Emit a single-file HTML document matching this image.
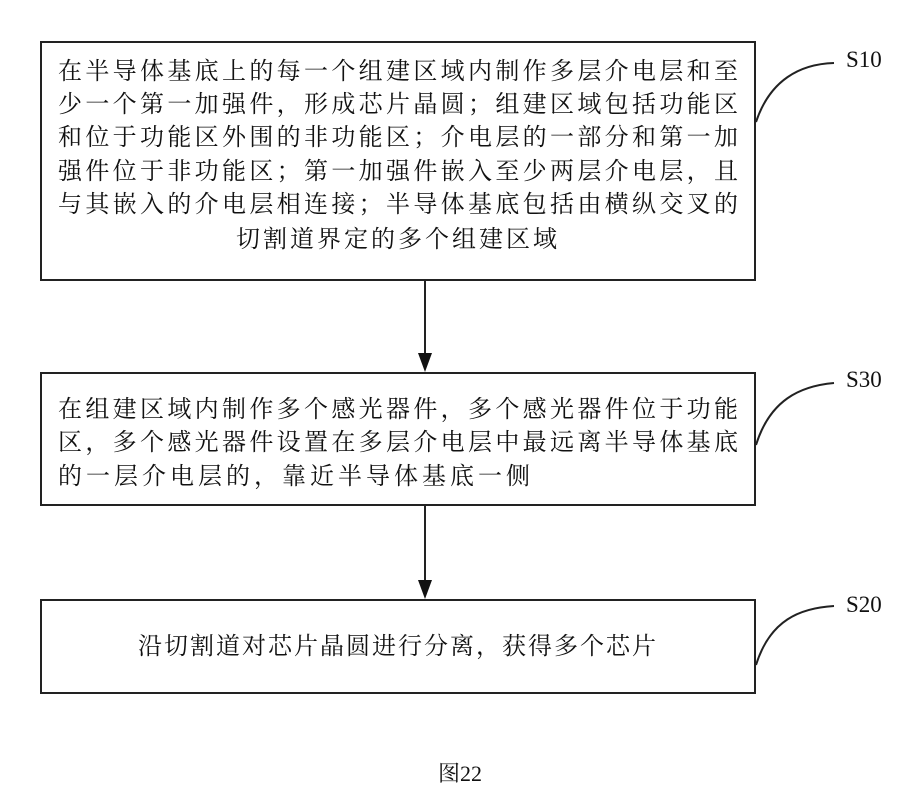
<!DOCTYPE html>
<html><head><meta charset="utf-8"><style>
body{margin:0;width:921px;height:797px;background:#fff;position:relative;overflow:hidden;font-family:"Liberation Serif","Noto Serif CJK SC",serif;color:#111}
.box{position:absolute;border:2px solid #222;box-sizing:border-box}
.l{position:absolute;left:58px;width:680px;font-size:24px;line-height:32px;height:32px;text-align:justify;text-align-last:justify;white-space:nowrap}
.c{text-align:center;text-align-last:center;letter-spacing:3px}
.s{position:absolute;font-size:23px}
</style></head><body>
<div class="box" style="left:40px;top:41px;width:716px;height:240px"></div>
<div class="box" style="left:40px;top:372px;width:716px;height:134px"></div>
<div class="box" style="left:40px;top:599px;width:716px;height:95px"></div>
<div class="l" style="top:56px">在半导体基底上的每一个组建区域内制作多层介电层和至</div>
<div class="l" style="top:89px">少一个第一加强件，形成芯片晶圆；组建区域包括功能区</div>
<div class="l" style="top:122px">和位于功能区外围的非功能区；介电层的一部分和第一加</div>
<div class="l" style="top:156px">强件位于非功能区；第一加强件嵌入至少两层介电层，且</div>
<div class="l" style="top:189px">与其嵌入的介电层相连接；半导体基底包括由横纵交叉的</div>
<div class="l c" style="top:224px">切割道界定的多个组建区域</div>
<div class="l" style="top:394px">在组建区域内制作多个感光器件，多个感光器件位于功能</div>
<div class="l" style="top:427px">区，多个感光器件设置在多层介电层中最远离半导体基底</div>
<div class="l" style="top:461px;text-align:left;text-align-last:left;letter-spacing:4px">的一层介电层的，靠近半导体基底一侧</div>
<div class="l c" style="top:631px;letter-spacing:2px">沿切割道对芯片晶圆进行分离，获得多个芯片</div>
<div class="s" style="left:846px;top:47px">S10</div>
<div class="s" style="left:846px;top:367px">S30</div>
<div class="s" style="left:846px;top:592px">S20</div>
<div class="s" style="left:438px;top:757px;font-size:22px">图22</div>
<svg width="921" height="797" style="position:absolute;left:0;top:0" fill="none" stroke="#222" stroke-width="2">
<path d="M425 281V355M425 505V582"/>
<path d="M418 353L432 353L425 372Z M418 580L432 580L425 599Z" fill="#111" stroke="none"/>
<path d="M756 122C770 80 800 64 834 63"/>
<path d="M756 445C770 400 800 386 834 383"/>
<path d="M756 665C770 620 800 608 834 606"/>
</svg>
</body></html>
